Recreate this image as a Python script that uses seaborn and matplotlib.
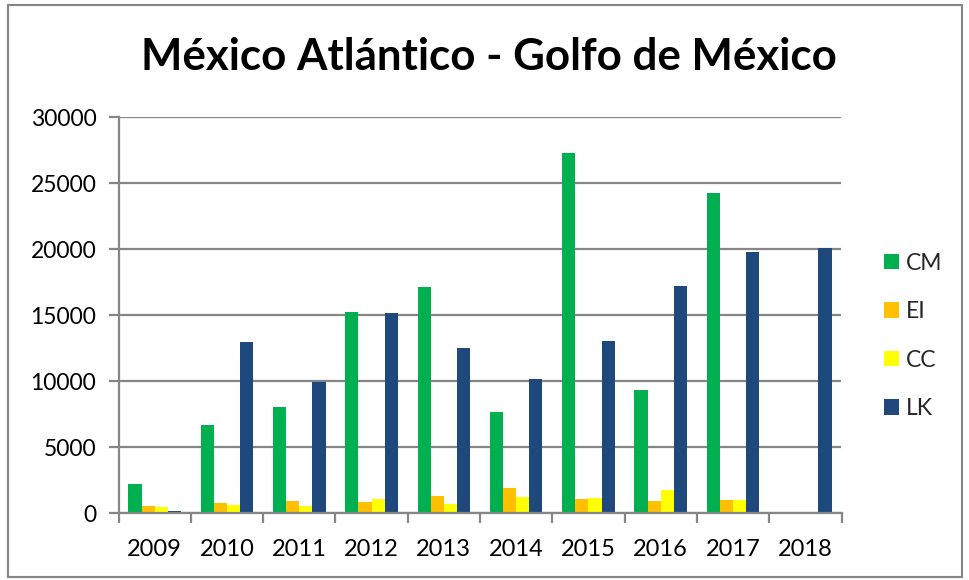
import matplotlib
matplotlib.use("Agg")
import matplotlib.pyplot as plt
from matplotlib.patches import Rectangle
from matplotlib.ticker import FixedLocator
import seaborn as sns
import pandas as pd
import numpy as np

years = ["2009", "2010", "2011", "2012", "2013", "2014", "2015", "2016", "2017", "2018"]
cm = [2200, 6700, 8000, 15250, 17100, 7650, 27300, 9300, 24250, 30]
ei = [500, 730, 940, 810, 1260, 1870, 1090, 910, 990, 0]
cc = [450, 580, 500, 1030, 710, 1190, 1130, 1710, 1010, 0]
lk = [130, 12930, 9950, 15170, 12470, 10170, 13020, 17210, 19780, 20110]

series = ["CM", "EI", "CC", "LK"]
colors = ["#00B050", "#FFC000", "#FFFF00", "#1F497D"]
yticks = [0, 5000, 10000, 15000, 20000, 25000, 30000]

df = pd.DataFrame({
    "year": years * 4,
    "serie": [s for s in series for _ in years],
    "value": cm + ei + cc + lk,
})

sns.set_theme(style="white")
plt.rcParams["font.family"] = ["Lato", "DejaVu Sans"]

grid_col = "#868686"
fig = plt.figure(figsize=(9.69, 5.80), dpi=100)
ax = fig.add_axes([118.5 / 969, 1 - 513 / 580, 723 / 969, 396 / 580])

sns.barplot(data=df, x="year", y="value", hue="serie", hue_order=series,
            order=years, palette=colors, width=0.727, errorbar=None,
            saturation=1, linewidth=0, ax=ax)

ax.set_xlim(-0.5, len(years) - 0.5)
ax.set_ylim(0, 30000)
ax.set_yticks(yticks)
ax.set_yticklabels([str(v) for v in yticks])
ax.set_xlabel("")
ax.set_ylabel("")

ax.yaxis.grid(True, color=grid_col, linewidth=1.6)
ax.set_axisbelow(True)
for side in ("top", "right"):
    ax.spines[side].set_visible(False)
for side in ("left", "bottom"):
    ax.spines[side].set_color(grid_col)
    ax.spines[side].set_linewidth(1.6)

ax.tick_params(axis="y", which="major", left=True, length=7, width=1.6,
               color=grid_col, labelsize=16.5, pad=9, labelcolor="black")
ax.tick_params(axis="x", which="major", bottom=False, labelsize=17, pad=13,
               labelcolor="black")
ax.xaxis.set_minor_locator(FixedLocator(np.arange(-0.5, len(years), 1.0)))
ax.tick_params(axis="x", which="minor", bottom=True, length=7, width=1.6,
               color=grid_col)

handles, labels = ax.get_legend_handles_labels()
ax.legend(handles, labels, loc="upper left", bbox_to_anchor=(863 / 969, 1 - 232 / 580),
          bbox_transform=fig.transFigure, frameon=False, fontsize=16.5,
          handlelength=0.68, handleheight=0.68, handletextpad=0.3, labelspacing=1.2)

fig.text(0.505, 1 - 57 / 580, "México Atlántico - Golfo de México",
         ha="center", va="center", fontsize=31.6, fontweight="bold", color="black")

fig.patches.append(Rectangle((8 / 969, 1 - 577 / 580), 954 / 969, 572 / 580,
                             transform=fig.transFigure, fill=False,
                             edgecolor=grid_col, linewidth=1.5))

fig.savefig("out.png", dpi=100, facecolor="white")
